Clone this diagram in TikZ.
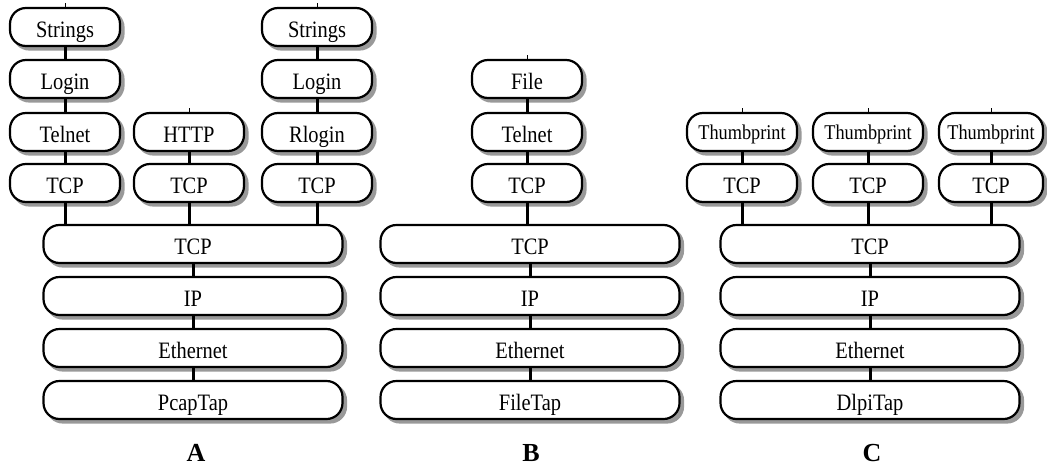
\documentclass[tikz,border=0pt]{standalone}
\usepackage{fontspec}
\setmainfont{Liberation Serif}[FakeStretch=0.87]
\newfontfamily\captionfont{Liberation Serif}
\usetikzlibrary{backgrounds}

\tikzset{
  layer/.style={draw, line width=2.2pt, rounded corners=16pt, fill=white,
    minimum height=38pt, inner sep=0pt, text height=20pt, text depth=0pt,
    font=\fontsize{23.5}{23.5}\selectfont},
  small/.style={layer, minimum width=110pt},
  wide/.style={layer, minimum width=299pt},
  thumb/.style={small, font=\fontsize{21}{21}\selectfont, text height=15pt},
  shade/.style={fill=black!40, rounded corners=17pt},
  link/.style={line width=3pt},
  stub/.style={line width=1pt},
  caption/.style={font=\captionfont\bfseries\fontsize{26}{26}\selectfont, anchor=base, inner sep=0pt},
}

\begin{document}
\begin{tikzpicture}[x=1pt, y=-1pt]
\useasboundingbox (0,0) rectangle (1047,469);

% ---------- stack A ----------
\node[small] (aS1) at (65,27)  {Strings};
\node[small] (aL1) at (65,79)  {Login};
\node[small] (aT1) at (65,132) {Telnet};
\node[small] (aP1) at (65,183) {TCP};
\node[small] (aH2) at (189,132) {HTTP};
\node[small] (aP2) at (189,183) {TCP};
\node[small] (aS3) at (317,27)  {Strings};
\node[small] (aL3) at (317,79)  {Login};
\node[small] (aR3) at (317,132) {Rlogin};
\node[small] (aP3) at (317,183) {TCP};
\node[wide] (aTcp) at (193,244) {TCP};
\node[wide] (aIp)  at (193,296) {IP};
\node[wide] (aEth) at (193,348) {Ethernet};
\node[wide] (aTap) at (193,400) {PcapTap};
\node[caption] (capA) at (196,461) {A};

% ---------- stack B ----------
\node[small] (bF) at (527,79)  {File};
\node[small] (bT) at (527,132) {Telnet};
\node[small] (bP) at (527,183) {TCP};
\node[wide] (bTcp) at (530,244) {TCP};
\node[wide] (bIp)  at (530,296) {IP};
\node[wide] (bEth) at (530,348) {Ethernet};
\node[wide] (bTap) at (530,400) {FileTap};
\node[caption] (capB) at (531,461) {B};

% ---------- stack C ----------
\node[thumb] (cH1) at (742,132) {Thumbprint};
\node[small] (cP1) at (742,183) {TCP};
\node[thumb] (cH2) at (868,132) {Thumbprint};
\node[small] (cP2) at (868,183) {TCP};
\node[thumb, minimum width=104pt] (cH3) at (991,132) {Thumbprint};
\node[small, minimum width=104pt] (cP3) at (991,183) {TCP};
\node[wide] (cTcp) at (870,244) {TCP};
\node[wide] (cIp)  at (870,296) {IP};
\node[wide] (cEth) at (870,348) {Ethernet};
\node[wide] (cTap) at (870,400) {DlpiTap};
\node[caption] (capC) at (872,461) {C};

% ---------- drop shadows behind every layer ----------
\begin{scope}[on background layer]
\foreach \n in {aS1, aL1, aT1, aP1, aH2, aP2, aS3, aL3, aR3, aP3,
                aTcp, aIp, aEth, aTap,
                bF, bT, bP, bTcp, bIp, bEth, bTap,
                cH1, cP1, cH2, cP2, cH3, cP3, cTcp, cIp, cEth, cTap}
  \fill[shade] ([xshift=3.5pt, yshift=-3.5pt]\n.south west)
       rectangle ([xshift=3.5pt, yshift=-3.5pt]\n.north east);
\end{scope}

% ---------- links between layers ----------
\foreach \u/\l in {aS1/aL1, aL1/aT1, aT1/aP1, aH2/aP2, aS3/aL3, aL3/aR3, aR3/aP3,
                   aTcp/aIp, aIp/aEth, aEth/aTap,
                   bF/bT, bT/bP, bTcp/bIp, bIp/bEth, bEth/bTap,
                   cH1/cP1, cH2/cP2, cH3/cP3, cTcp/cIp, cIp/cEth, cEth/cTap}
  \draw[link] (\u.south) -- (\l.north);

\foreach \u/\l in {aP1/aTcp, aP2/aTcp, aP3/aTcp, bP/bTcp, cP1/cTcp, cP2/cTcp, cP3/cTcp}
  \draw[link] (\u.south) -- (\u.south |- \l.north);

% ---------- open ends above the topmost layers ----------
\coordinate (tS1) at (65,3);
\coordinate (tS3) at (317,3);
\coordinate (tH2) at (189,108);
\coordinate (tF)  at (527,55);
\coordinate (tC1) at (742,108);
\coordinate (tC2) at (868,108);
\coordinate (tC3) at (991,108);
\foreach \n/\t in {aS1/tS1, aS3/tS3, aH2/tH2, bF/tF, cH1/tC1, cH2/tC2, cH3/tC3}
  \draw[stub] (\n.north) -- (\t);
\end{tikzpicture}
\end{document}
